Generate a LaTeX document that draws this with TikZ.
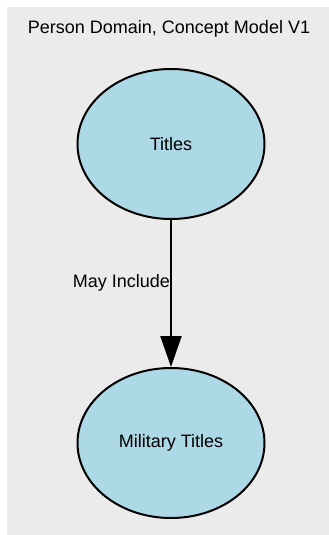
\documentclass[tikz,border=0pt]{standalone}
\usepackage{fontspec}
\setmainfont{Liberation Sans}
\usetikzlibrary{arrows.meta,shapes.geometric}

\definecolor{bggray}{HTML}{EBEBEB}
\definecolor{conceptblue}{HTML}{ADD8E6}

\begin{document}
\begin{tikzpicture}[
		x=1pt, y=-1pt,
		every node/.style = {
			font=\fontsize{18}{21}\selectfont, inner sep=0pt},
		concept/.style = {
			shape=ellipse, draw, line width=2pt,
			fill=conceptblue, minimum width=187pt, minimum height=150pt},
		relation/.style = {
			line width=2pt, -{Triangle[length=31pt,width=21pt]}}]
		\useasboundingbox (0,0) rectangle (329,535);
		\fill[bggray] (7,7) rectangle (329,535);
		\node (title) at (169,29) {Person Domain, Concept Model V1};
		\node[concept] (titles) at (171,144) {Titles};
		\node[concept] (military) at (171,443) {Military Titles};
		\draw[relation] (titles) -- node[pos=0.43, left] (include) {May Include} (military);
	\end{tikzpicture}
\end{document}
